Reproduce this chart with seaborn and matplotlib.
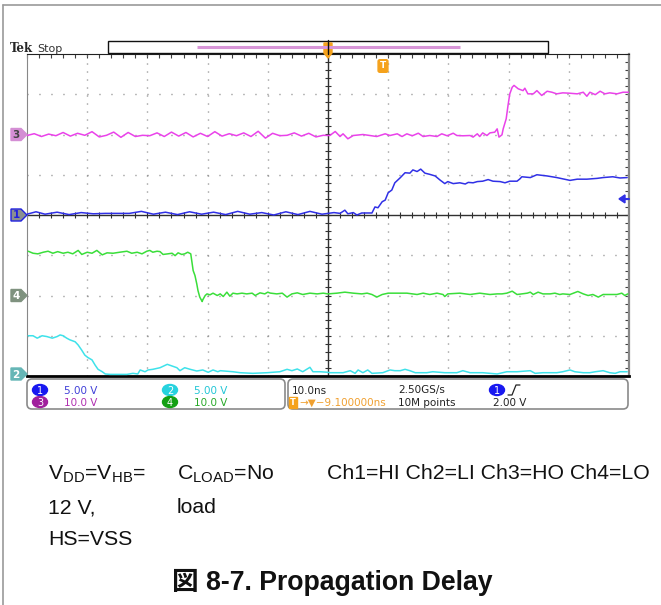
import matplotlib
matplotlib.use("Agg")
import matplotlib.pyplot as plt
from matplotlib.patches import Polygon, Rectangle, FancyBboxPatch, Ellipse
import numpy as np
import pandas as pd
import seaborn as sns

# scope capture: time in ns (10 ns/div, 0 = screen centre), values in volts
CH1_T = [-50.0, -48.5, -47.0, -45.0, -43.0, -41.0, -39.0, -37.0, -35.0, -33.0, -31.0, -29.0,
         -27.0, -25.0, -23.0, -21.0, -19.0, -17.0, -15.0, -13.0, -11.0, -9.0, -7.0, -5.0,
         -3.0, -1.0, 1.0, 2.0, 2.8, 3.3, 4.2, 4.8, 5.6, 7.3, 7.8, 8.3, 9.0, 9.5, 10.0, 10.6,
         11.1, 12.0, 12.8, 13.6, 14.1, 14.8, 15.4, 16.1, 16.9, 17.8, 18.6, 19.4, 19.9, 20.8,
         21.9, 22.8, 23.3, 24.1, 24.8, 25.7, 26.6, 27.4, 28.6, 29.4, 30.2, 31.4, 31.9, 32.2,
         33.6, 34.7, 36.4, 38.0, 40.2, 41.4, 43.0, 44.7, 45.7, 47.3, 48.5, 49.7]
CH1_V = [0.1, 0.4, 0.1, 0.35, 0.05, 0.3, 0.15, 0.2, 0.2, 0.2, 0.45, 0.1,
         0.35, 0.05, 0.4, 0.1, 0.35, 0.05, 0.45, 0.1, 0.3, 0.0, 0.4, 0.05,
         0.45, 0.1, 0.3, 0.2, 0.6, 0.15, 0.3, 0.0, 0.25, 0.25, 1.0, 0.9, 1.65, 1.85, 2.77, 3.1,
         4.0, 4.63, 5.25, 5.2, 5.6, 5.4, 5.7, 5.2, 5.05, 4.85, 4.35, 3.9, 4.15, 3.9,
         4.0, 3.85, 4.05, 4.0, 4.15, 4.2, 4.4, 4.2, 4.15, 4.0, 4.2, 4.2, 4.5, 4.75,
         4.65, 5.0, 4.85, 4.65, 4.3, 4.45, 4.45, 4.55, 4.65, 4.75, 4.6, 4.65]

CH2_T = [-49.8, -49.0, -48.3, -47.5, -46.7, -45.8, -45.0, -44.5, -44.0, -43.4, -42.9, -42.0,
         -41.5, -40.9, -40.4, -39.9, -39.2, -38.7, -38.2, -37.5, -37.0, -36.2, -35.0, -33.4,
         -32.4, -31.6, -31.2, -30.4, -29.9, -29.1, -27.9, -26.7, -25.9, -25.1, -24.6, -23.8,
         -22.9, -21.8, -20.8, -19.9, -19.1, -18.3, -17.9, -15.8, -14.6, -12.5, -10.1, -8.0,
         -6.8, -6.0, -5.1, -4.2, -3.0, -2.5, -1.3, 0.0, 0.3, 2.5, 3.7, 4.5, 5.0, 5.8, 6.6,
         7.3, 9.1, 10.3, 11.1, 12.0, 12.8, 13.6, 14.5, 16.4, 17.4, 19.4, 21.4, 22.4, 23.6,
         25.7, 28.1, 29.7, 31.4, 33.6, 34.4, 35.7, 38.0, 39.0, 40.2, 41.0, 42.4, 43.5, 44.4,
         45.7, 46.8, 47.7, 48.5, 49.7]
CH2_V = [5.0, 5.0, 4.7, 5.0, 4.9, 4.7, 4.9, 5.1, 5.0, 4.7, 4.5, 4.25,
         3.85, 3.2, 2.6, 2.3, 2.0, 1.37, 0.83, 0.53, 0.25, 0.2, 0.2, 0.2,
         0.33, 0.25, 0.75, 0.53, 0.75, 0.83, 1.03, 1.45, 1.24, 1.03, 0.66, 1.03,
         0.83, 0.62, 0.75, 0.46, 0.75, 0.53, 0.66, 0.53, 0.41, 0.33, 0.41, 0.53,
         0.83, 0.66, 0.87, 0.53, 1.08, 0.53, 0.53, 0.46, 0.41, 0.41, 0.66, 0.33, 0.75, 0.41, 0.75,
         0.33, 0.41, 0.75, 0.66, 0.66, 0.83, 0.66, 0.41, 0.41, 0.53, 0.41, 0.41, 0.66, 0.41,
         0.41, 0.25, 0.53, 0.53, 0.66, 0.33, 0.41, 0.41, 0.53, 0.75, 0.53, 0.41, 0.41, 0.53,
         0.66, 0.41, 0.33, 0.53, 0.53]

CH3_T = [-50.0, -48.8, -47.6, -46.4, -45.2, -44.0, -42.8, -41.6, -40.4, -39.2, -38.0, -36.8,
         -35.6, -34.4, -33.2, -32.0, -30.8, -29.6, -28.4, -27.2, -26.0, -24.8, -23.6, -22.4,
         -21.2, -20.0, -18.8, -17.6, -16.4, -15.2, -14.0, -12.8, -11.6, -10.4, -9.2, -8.0,
         -6.8, -5.6, -4.4, -3.2, -2.0, -0.8, 0.3, 1.2, 2.0, 2.5, 3.3, 4.2, 5.8, 8.1, 9.5,
         10.3, 11.5, 12.3, 13.1, 14.0, 15.0, 15.8, 16.9, 18.1, 18.9, 19.8, 20.8, 21.4, 22.4,
         23.6, 24.1, 24.8, 25.2, 25.7, 26.4, 26.9, 27.7, 28.1, 28.4, 28.9, 29.1, 29.6, 29.9,
         30.2, 30.6, 30.9, 31.6, 32.4, 32.7, 33.2, 34.1, 34.7, 35.5, 36.4, 37.2, 38.0, 39.0,
         40.2, 41.4, 42.4, 43.0, 43.5, 44.4, 45.2, 46.0, 46.8, 48.0, 49.0, 50.0]
CH3_V = [-0.25, 0.2, -0.5, 0.1, -0.3, 0.5, -0.4, 0.3, -0.2, 0.7, -0.6, -0.2,
         0.6, -0.7, 0.5, -0.5, -0.2, -0.3, 0.4, -0.5, 0.6, -0.4, 0.5, -0.6,
         0.3, -0.5, 0.7, -0.4, 0.2, -0.3, 0.4, -0.5, 0.8, -0.9, 0.3, -0.3,
         -0.2, 0.4, -0.4, 0.3, -0.6, -0.2, -0.25, 0.75, -0.5, 0.17, -1.07, -0.25, 0.0, -0.5, 0.17,
         -0.25, 0.17, -0.5, 0.17, -0.32, 0.32, -0.5, -0.25, -0.5, 0.17, -0.32, 0.32, -0.25, -0.32,
         -0.25, -0.65, 0.17, -0.5, 0.4, -0.25, 0.4, 0.58, 1.4, -0.65, -0.08, 1.4, 3.9, 7.2,
         10.1, 11.75, 12.2, 11.35, 10.9, 11.5, 10.1, 10.1, 10.9, 9.7, 10.75, 10.5, 10.1, 10.35,
         10.25, 10.1, 10.5, 9.5, 10.5, 9.9, 10.75, 10.1, 10.35, 10.1, 10.5, 10.5]

CH4_T = [-49.8, -49.0, -48.2, -47.3, -46.5, -45.7, -44.9, -44.0, -43.2, -42.4, -41.5, -40.9,
         -40.0, -39.2, -38.4, -37.5, -36.7, -35.7, -34.6, -33.4, -32.6, -31.7, -30.9, -30.1,
         -29.6, -29.1, -28.4, -27.9, -27.4, -26.6, -25.9, -25.4, -24.9, -24.3, -23.8, -23.3,
         -22.8, -22.6, -22.4, -22.1, -21.8, -21.6, -21.3, -20.9, -20.8, -20.4, -20.1, -19.6,
         -19.1, -18.4, -17.9, -17.4, -16.8, -16.3, -15.8, -15.1, -14.3, -13.5, -12.6, -12.1,
         -11.3, -10.5, -10.0, -9.6, -8.5, -7.6, -6.8, -6.0, -5.1, -4.2, -3.0, -1.8, -0.8, 0.0,
         1.5, 2.8, 4.2, 5.6, 6.5, 7.3, 8.1, 9.0, 10.0, 11.5, 13.1, 14.8, 15.8, 16.9, 18.1,
         19.1, 19.4, 19.9, 21.9, 23.6, 25.2, 26.9, 28.1, 28.9, 29.7, 30.6, 31.4, 32.2, 33.1,
         33.6, 34.1, 34.9, 35.7, 36.9, 37.7, 38.5, 39.0, 40.2, 41.5, 42.4, 43.2, 44.0, 44.9,
         45.7, 46.8, 48.0, 48.8, 49.3, 49.8]
CH4_V = [11.0, 10.5, 10.35, 10.75, 11.0, 10.5, 10.9, 10.5, 10.75, 10.35, 11.2, 10.2,
         10.75, 10.5, 11.2, 10.1, 10.6, 10.5, 10.75, 11.0, 10.5, 10.75, 10.35, 11.0,
         11.2, 10.75, 11.0, 10.9, 10.2, 10.35, 10.5, 9.9, 10.6, 10.2, 10.35, 10.75,
         10.35, 8.3, 6.2, 4.97, 2.9, 1.24, -0.4, -1.5, -1.07, 0.0, 0.4, 0.17,
         0.58, 0.0, 0.4, -0.25, 0.83, -0.17, 0.58, 0.4, 0.58, 0.4, 0.58, 0.0,
         0.66, 0.4, 0.83, 0.6, 0.4, 0.58, -0.4, 0.4, 0.66, 0.25, 0.58, 0.4, 0.58, 0.4,
         0.58, 0.83, 0.58, 0.4, 0.58, 0.25, -0.4, 0.25, 0.58, 0.58, 0.58, 0.25, 0.58, 0.25, 0.58,
         0.25, -0.25, 0.4, 0.58, 0.25, 0.58, 0.25, 0.4, 0.4, 0.58, 1.07, 0.25, 0.4, 0.58,
         0.83, 0.25, 0.83, 0.4, 0.4, 0.58, 0.25, 0.4, 0.25, 1.0, 0.4, 0.0, 0.25, -0.4,
         0.25, 0.25, 0.25, 0.58, 0.0, 0.4]

CHANNELS = ["1", "2", "3", "4"]
SCALE_LABELS = ["5.00 V", "5.00 V", "10.0 V", "10.0 V"]
VOLTS_PER_DIV = [5.0, 5.0, 10.0, 10.0]
OFFSET_DIV = [0, -4, 2, -2]
TRACE_COLORS = ["#3030e6", "#3ee2ea", "#ea42ea", "#3ade3a"]

W, H = 661, 605
X0, X1, Y0, Y1 = 27, 629, 54, 376   # graticule in pixels


def div_to_px(d):
    return (Y0 + Y1) / 2 - d * (Y1 - Y0) / 8


def main():
    sns.set_style("white")
    plt.rcParams["font.family"] = ["DejaVu Sans"]
    plt.rcParams["mathtext.fontset"] = "custom"
    plt.rcParams["mathtext.rm"] = "Liberation Sans"

    fig = plt.figure(figsize=(W / 100, H / 100), dpi=100)
    ax = fig.add_axes([X0 / W, 1 - Y1 / H, (X1 - X0) / W, (Y1 - Y0) / H])

    frames = []
    for ch, t, v, sc, off in zip(CHANNELS, [CH1_T, CH2_T, CH3_T, CH4_T],
                                 [CH1_V, CH2_V, CH3_V, CH4_V], VOLTS_PER_DIV, OFFSET_DIV):
        frames.append(pd.DataFrame({"t": t, "div": off + np.array(v) / sc, "ch": ch}))
    df = pd.concat(frames, ignore_index=True)

    # graticule
    for x in range(-40, 50, 10):
        if x != 0:
            ax.axvline(x, color="#777777", lw=1, ls=(0, (0.7, 5.06)), zorder=1)
    for y in range(-3, 4):
        if y != 0:
            ax.axhline(y, color="#777777", lw=1, ls=(0, (0.7, 7.94)), zorder=1)
    ax.axhline(0, color="#303030", lw=1, zorder=1)
    ax.axvline(0, color="#303030", lw=1, zorder=1)
    ax.vlines(np.arange(-50, 50.1, 2), -0.08, 0.08, color="#303030", lw=0.8, zorder=1)
    ax.hlines(np.arange(-4, 4.01, 0.2), -0.5, 0.5, color="#303030", lw=0.8, zorder=1)

    sns.lineplot(data=df, x="t", y="div", hue="ch", palette=dict(zip(CHANNELS, TRACE_COLORS)),
                 estimator=None, sort=False, legend=False, lw=1.1, ax=ax, zorder=3)

    ax.set_xlim(-50, 50)
    ax.set_ylim(-4, 4)
    ax.set_xlabel("")
    ax.set_ylabel("")
    ax.set_xticks(np.arange(-50, 50.1, 2))
    ax.set_yticks(np.arange(-4, 4.01, 0.2))
    ax.tick_params(which="both", direction="in", length=3, width=0.8, color="#404040",
                   top=True, right=True, labelbottom=False, labelleft=False)
    ax.spines["top"].set_color("#202020")
    ax.spines["left"].set_color("#888888")
    ax.spines["right"].set_color("#888888")
    ax.spines["right"].set_linewidth(1.6)
    ax.spines["bottom"].set_color("#000000")
    ax.spines["bottom"].set_linewidth(2)

    # overlay in pixel coordinates for the scope annotations and text
    ov = fig.add_axes([0, 0, 1, 1], zorder=5)
    ov.set_xlim(0, W)
    ov.set_ylim(H, 0)
    ov.axis("off")

    ov.plot([2.5, 2.5], [5, H], color="#9a9a9a", lw=1.2)
    ov.plot([2.5, W], [5, 5], color="#9a9a9a", lw=1.2)

    ov.text(10, 52, "Tek", family="DejaVu Serif", fontweight="bold", fontsize=8.5)
    ov.text(37, 52, "Stop", fontsize=8, color="#333333")
    ov.add_patch(Rectangle((108, 41), 440, 12, fc="white", ec="#111111", lw=1))
    ov.plot([197, 460], [47, 47], color="#d896d8", lw=2.2, solid_capstyle="butt")
    ov.add_patch(Polygon([(324, 43), (332, 43), (332, 53), (328, 58), (324, 53)],
                         closed=True, fc="#f5a21c", ec="#f5a21c"))
    ov.plot([328, 328], [40, 54], color="#111111", lw=1)
    ov.text(383, 66, "T", ha="center", va="center", color="white", fontsize=6.5,
            fontweight="bold",
            bbox=dict(boxstyle="round,pad=0.2", fc="#f5a21c", ec="#f5a21c"))

    # channel ground markers
    marker_style = {"1": ("#8a9090", "#2020e0", "#2020e0"),
                    "2": ("#66b6b6", "#66b6b6", "white"),
                    "3": ("#d48ed4", "#d48ed4", "#444444"),
                    "4": ("#7f927f", "#7f927f", "white")}
    for ch, off in zip(CHANNELS, OFFSET_DIV):
        yp = min(div_to_px(off), Y1 - 2)
        fc, ec, tc = marker_style[ch]
        ov.add_patch(Polygon([(11, yp - 6), (21, yp - 6), (27, yp), (21, yp + 6), (11, yp + 6)],
                             closed=True, fc=fc, ec=ec, lw=1))
        ov.text(16, yp + 0.5, ch, ha="center", va="center", color=tc, fontsize=7.5,
                fontweight="bold")

    # trigger level arrow (ch1, 2.00 V)
    ty = div_to_px(2.0 / VOLTS_PER_DIV[0])
    ov.add_patch(Polygon([(619, ty), (625, ty - 4), (625, ty + 4)], closed=True,
                         fc=TRACE_COLORS[0], ec=TRACE_COLORS[0]))
    ov.plot([624, 629], [ty, ty], color=TRACE_COLORS[0], lw=1.5)

    # readout boxes
    for x, w in [(27, 258), (288, 340)]:
        ov.add_patch(FancyBboxPatch((x, 379), w, 30, boxstyle="round,pad=0,rounding_size=5",
                                    fc="white", ec="#8a8a8a", lw=1.2))
    badge_colors = ["#1818f0", "#26d2de", "#a0209c", "#14a014"]
    label_colors = ["#4040d8", "#22c6d6", "#b030b0", "#28a828"]
    pos = [(40, 390), (170, 390), (40, 402), (170, 402)]
    for ch, lab, bc, lc, (bx, by) in zip(CHANNELS, SCALE_LABELS, badge_colors, label_colors, pos):
        ov.add_patch(Ellipse((bx, by), 15, 11, fc=bc, ec=bc))
        ov.text(bx, by + 0.5, ch, ha="center", va="center", color="white", fontsize=7)
        ov.text(bx + 24, by + 0.5, lab, ha="left", va="center", color=lc, fontsize=7.5)

    ov.text(292, 390.5, "10.0ns", va="center", fontsize=7.5, color="#222222")
    ov.text(398, 390.5, "2.50GS/s", va="center", fontsize=7.5, color="#222222")
    ov.add_patch(Ellipse((497, 390), 15, 11, fc=badge_colors[0], ec=badge_colors[0]))
    ov.text(497, 390.5, "1", ha="center", va="center", color="white", fontsize=7)
    ov.plot([508, 512, 516, 520], [395, 395, 385, 385], color="#222222", lw=0.9)
    ov.text(293, 402.5, "T", ha="center", va="center", color="white", fontsize=6,
            fontweight="bold", bbox=dict(boxstyle="square,pad=0.15", fc="#f5a21c", ec="#f5a21c"))
    ov.text(299, 402.5, "\u2192\u25bc\u22129.100000ns", va="center", fontsize=7.5, color="#f0a030")
    ov.text(398, 402.5, "10M points", va="center", fontsize=7.5, color="#222222")
    ov.text(493, 402.5, "2.00 V", va="center", fontsize=7.5, color="#222222")

    # conditions and caption
    tf = {"family": ["Liberation Sans"], "fontsize": 15.3, "color": "#111111"}
    ov.text(48, 479, r"V$_{\rm DD}$=V$_{\rm HB}$=", **tf)
    ov.text(177, 479, r"C$_{\rm LOAD}$=No", **tf)
    ov.text(327, 479, "Ch1=HI Ch2=LI Ch3=HO Ch4=LO", **tf)
    ov.text(48, 513, "12 V,", **tf)
    ov.text(177, 513, "load", **tf)
    ov.text(48, 545, "HS=VSS", **tf)
    ov.text(332, 590, "図 8-7. Propagation Delay", ha="center", fontsize=19.2,
            fontweight="bold", family=["Liberation Sans", "Noto Sans CJK JP"], color="#111111")

    fig.savefig("out.png", dpi=100)
    plt.close(fig)


if __name__ == "__main__":
    main()
